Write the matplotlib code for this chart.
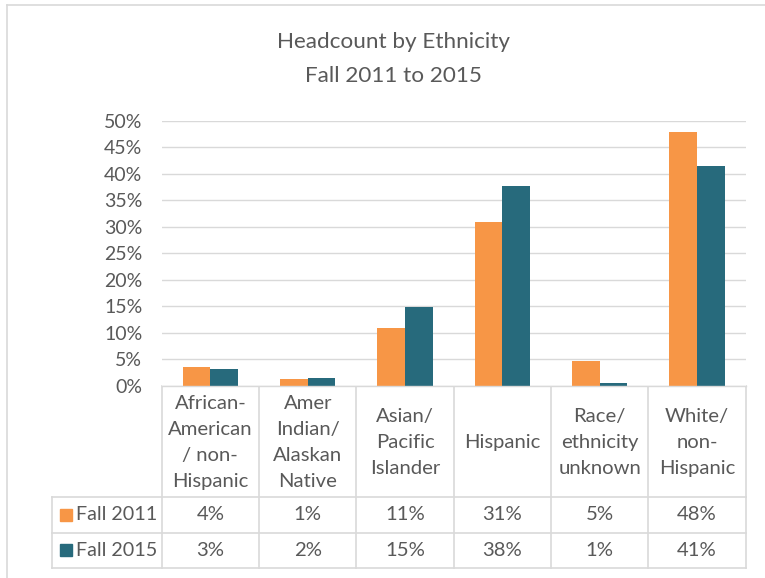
import matplotlib
matplotlib.use("Agg")
import matplotlib.pyplot as plt
from matplotlib.lines import Line2D
from matplotlib.patches import Rectangle
from matplotlib.ticker import FuncFormatter

# ---- data ----
categories = ["African-\nAmerican\n/ non-\nHispanic",
              "Amer\nIndian/\nAlaskan\nNative",
              "Asian/\nPacific\nIslander",
              "Hispanic",
              "Race/\nethnicity\nunknown",
              "White/\nnon-\nHispanic"]
series_names = ["Fall 2011", "Fall 2015"]
fall_2011 = [3.5, 1.3, 10.9, 30.9, 4.7, 47.9]
fall_2015 = [3.2, 1.5, 14.8, 37.6, 0.6, 41.4]
yticks = [0, 5, 10, 15, 20, 25, 30, 35, 40, 45, 50]

colors = ["#F79646", "#276A7C"]
text_c = "#595959"
grid_c = "#D9D9D9"
FONT = "Lato"

W, H = 765, 578
fig = plt.figure(figsize=(W / 100, H / 100), dpi=100)
fig.patch.set_facecolor("white")

# layout in pixels
px_left, px_right = 161.7, 745.7
px_zero, px_top = 386.0, 120.7
px_hdr, px_r1, px_r2 = 497.0, 532.7, 567.7
px_leg = 51.7

ax = fig.add_axes([px_left / W, 1 - px_zero / H, (px_right - px_left) / W,
                   (px_zero - px_top) / H])
n = len(categories)
bw = 0.285
xs = [i + 0.5 for i in range(n)]
ax.bar([x - bw / 2 for x in xs], fall_2011, width=bw, color=colors[0], zorder=3)
ax.bar([x + bw / 2 for x in xs], fall_2015, width=bw, color=colors[1], zorder=3)
ax.set_xlim(0, n)
ax.set_ylim(0, 50)
ax.set_yticks(yticks)
ax.yaxis.set_major_formatter(FuncFormatter(lambda v, p: f"{int(v)}%"))
ax.set_xticks([])
ax.tick_params(axis="y", length=0, pad=14, labelsize=14, labelcolor=text_c)
for lab in ax.get_yticklabels():
    lab.set_fontfamily(FONT)
ax.grid(axis="y", color=grid_c, lw=1.0, zorder=0)
for s in ["top", "right", "left"]:
    ax.spines[s].set_visible(False)
ax.spines["bottom"].set_color(grid_c)
ax.spines["bottom"].set_linewidth(1.0)
ax.spines["bottom"].set_zorder(4)

# overlay in pixel coordinates
ov = fig.add_axes([0, 0, 1, 1], zorder=-1)
ov.set_xlim(0, W)
ov.set_ylim(H, 0)
ov.axis("off")

def hline(y, x0, x1):
    ov.add_line(Line2D([x0, x1], [y, y], color=grid_c, lw=1.2))

def vline(x, y0, y1):
    ov.add_line(Line2D([x, x], [y0, y1], color=grid_c, lw=1.2))

# chart border
hline(5, 6.7, W)
vline(6.7, 5, H)

colw = (px_right - px_left) / n
for k in range(n + 1):
    vline(px_left + k * colw, px_zero, px_r2)
hline(px_hdr, px_leg, px_right)
hline(px_r1, px_leg, px_right)
hline(px_r2, px_leg, px_right)
vline(px_leg, px_hdr, px_r2)

# header labels
for i, c in enumerate(categories):
    ov.text(px_left + (i + 0.5) * colw, (px_zero + px_hdr) / 2 + 1, c,
            ha="center", va="center", fontsize=14.6, color=text_c,
            family=FONT, linespacing=1.65, multialignment="center")

# data rows
rows = [(fall_2011, px_hdr, px_r1), (fall_2015, px_r1, px_r2)]
for si, (vals, y0, y1) in enumerate(rows):
    yc = (y0 + y1) / 2
    ov.add_patch(Rectangle((60, yc - 5.8), 11.7, 11.7, color=colors[si]))
    ov.text(76.5, yc, series_names[si], ha="left", va="center", fontsize=14.2,
            color=text_c, family=FONT)
    for i, v in enumerate(vals):
        ov.text(px_left + (i + 0.5) * colw, yc, f"{int(v + 0.5)}%",
                ha="center", va="center", fontsize=14.6, color=text_c,
                family=FONT)

# title
ov.text(393.5, 42.5, "Headcount by Ethnicity", ha="center", va="center",
        fontsize=16.2, color=text_c, family=FONT)
ov.text(393.5, 75.5, "Fall 2011 to 2015", ha="center", va="center",
        fontsize=16.2, color=text_c, family=FONT)

fig.savefig("out.png", dpi=100, facecolor="white")
